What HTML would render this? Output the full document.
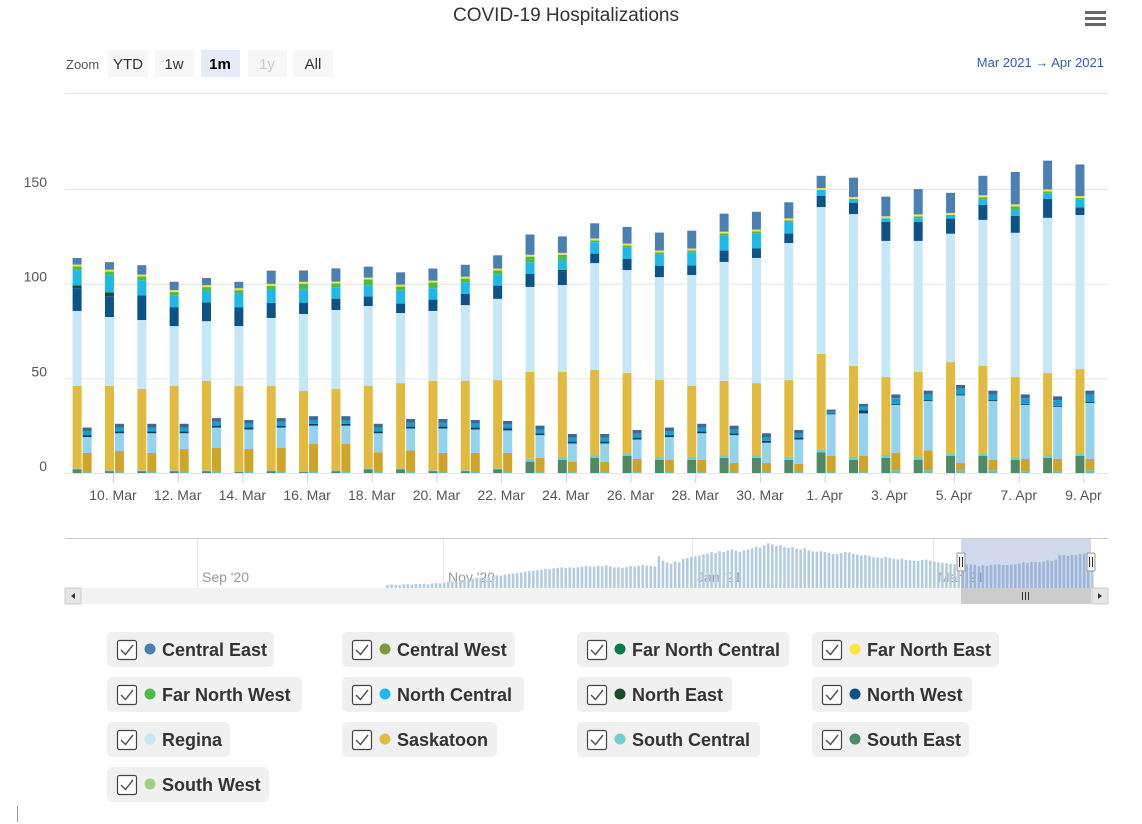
<!DOCTYPE html>
<html><head><meta charset="utf-8"><style>
body{margin:0;background:#fff;font-family:"Liberation Sans",sans-serif}
svg{display:block}
</style></head><body>
<svg id="c" width="1142" height="824" viewBox="0 0 1142 824" xmlns="http://www.w3.org/2000/svg" font-family="Liberation Sans, sans-serif">
<text x="566" y="21" text-anchor="middle" font-size="19" fill="#333">COVID-19 Hospitalizations</text>
<g fill="#666"><rect x="1085" y="11" width="21" height="3"/><rect x="1085" y="17" width="21" height="3"/><rect x="1085" y="23" width="21" height="3"/></g>
<text x="66" y="69" font-size="13" fill="#555">Zoom</text>
<g><rect x="108" y="50" width="40" height="27" fill="#f7f7f7"/><text x="128" y="69" text-anchor="middle" font-size="15" fill="#333">YTD</text></g>
<g><rect x="155" y="50" width="39" height="27" fill="#f7f7f7"/><text x="174" y="69" text-anchor="middle" font-size="15" fill="#333">1w</text></g>
<g><rect x="201" y="50" width="39" height="27" fill="#e6ebf5"/><text x="220" y="69" text-anchor="middle" font-size="15" font-weight="bold" fill="#000">1m</text></g>
<g><rect x="248" y="50" width="39" height="27" fill="#f7f7f7"/><text x="267" y="69" text-anchor="middle" font-size="15" fill="#ccc">1y</text></g>
<g><rect x="293" y="50" width="40" height="27" fill="#f7f7f7"/><text x="313" y="69" text-anchor="middle" font-size="15" fill="#333">All</text></g>
<text x="1104" y="67" text-anchor="end" font-size="13" fill="#335cad">Mar 2021 → Apr 2021</text>
<line x1="65" y1="93.5" x2="1108" y2="93.5" stroke="#e6e6e6"/>
<g id="grid"></g><g id="bars"></g><g id="axes"></g><g id="nav"></g><g id="legend"></g>
<line x1="17.5" y1="806" x2="17.5" y2="822" stroke="#999"/>
</svg>
<script>
const days=['9. Mar','10. Mar','11. Mar','12. Mar','13. Mar','14. Mar','15. Mar','16. Mar','17. Mar','18. Mar','19. Mar','20. Mar','21. Mar','22. Mar','23. Mar','24. Mar','25. Mar','26. Mar','27. Mar','28. Mar','29. Mar','30. Mar','31. Mar','1. Apr','2. Apr','3. Apr','4. Apr','5. Apr','6. Apr','7. Apr','8. Apr','9. Apr'];
const yTicks=[0,50,100,150];
// inpatient stacks
const hSE=[2,1,1,1,1,0.5,1,0.5,1,2,2,1,1,2,6,7,8,9,7,7,8,8,7,11,7,8,7,9,9,7,8,9];
const hSC=[0.5,0.5,0.5,0.5,0.5,0.5,0.5,0.5,0.5,0.5,0.5,0.5,0.5,0.5,1.5,1.5,1.5,1.5,1.5,1.5,1.5,1.5,1.5,1.5,1.5,1.5,1.5,1.5,1.5,1.5,1.5,1.5];
const hSK=[43.5,44.5,42.9,44.5,47.1,45,44.5,42.3,42.9,43.5,45,47.1,47.1,46.6,45.9,44.9,44.9,42.3,40.6,37.5,39.1,38,40.6,50.4,48.1,41.2,44.9,48.1,46.1,42.2,43.3,44.4];
const hRG=[39.6,36.4,36.4,31.6,31.6,31.6,35.9,40.7,41.7,42.2,37,37,40.1,42.9,44.9,45.9,56.5,54.4,54.4,58.6,62.9,66.1,72.4,77.6,80.2,71.9,69.2,67.8,77.1,76.2,82,81.4];
const hNW=[12,11,13,10,10,10,8,6,6,5,5,6,6,7,7,7,5,6,6,5,6,5,5,6,6,10,10,8,8,9,10,4];
const hNE=[1.5,2,0,0,0,0,0,0,0,0,0,0,0,0,0,1,0,0,0,0,0,0,0,0,0,0,0,0,0,0,0,0];
const hNC=[8,9,8,6,6,7,7,7,6,6,7,6,6,6,6,5,6,6,6,7,8,8,6,3,2,2,2,2,3,3,3,4];
const hFNW=[2,2,2,2,2,2,2,3,2,3,2,3,2,2,3,3,1,1,1,1,1,1,1,0,0,0,1,0,1,2,1,1];
const hFNE=[1,1,1,1,1,1,1,1,1,1,1,1,1,1,1,1,1,1,1,1,1,1,1,1,1,1,1,1,1,1,1,1];
const hCE=[3.5,4,5,4.4,3.8,3.4,7,6,7,5.8,6.5,6.4,6.3,7,10.7,8.7,8,8.8,9.5,9.4,9.5,9.4,8.5,6.5,10.2,10.4,13.4,10.6,10.3,17.1,15.2,16.7];
// ICU stacks
const iSC=[0.5,0.5,0.5,0.5,0.5,0.5,0.5,0.5,0.5,0.5,0.5,0.5,0.5,0.5,0.5,0.5,0.5,0.5,0.5,0.5,0.5,0.5,0.5,0.5,0.5,1.5,1.5,1.5,1.5,1,1,1.5];
const iSK=[10.1,11.1,10.1,12.2,12.7,12.2,12.7,14.8,14.8,10.5,11.5,10.1,10.1,10.1,7.5,5.5,5.3,6.9,6.4,6.4,4.8,4.8,4.3,8.5,8.5,9.1,10.5,3.8,5.4,6.4,6.4,5.9];
const iRG=[8.4,9.4,10.4,8.3,10.8,10.3,10.8,9.7,9.7,10,11.5,12.9,12.4,11.9,12,9.6,9.8,10.3,12.1,14.1,14.7,10.7,12.9,22,22.5,25.4,26,35.7,31.1,28.6,27.6,29.6];
const iNW=[1,1,1,1,1,1,1,1,1,1,1,1,1,1,1,1,1,1,1,1,1,1,1,0.5,1.5,0.5,0.5,0.5,0.5,0.5,0.5,0.5];
const iNC=[2,2,2,2,2,2,2,2,2,2,2,2,2,2,2,2,2,2,2,2,2,2,2,1,2,3,3,3,3,3,3,4];
const iCE=[2,2,2,2,2,2,2,2,2,2,2,2,2,2,2,2,2,2,2,2,2,2,2,1,1.5,2,2,2,2,2,2,2];
// navigator: daily totals Oct 17 2020 - Mar 8 2021
const navEarly=[18,20,19,17,21,22,20,24,23,25,22,26,28,27,30,
35,38,40,44,48,52,55,60,58,62,66,70,74,72,78,82,85,88,90,95,98,100,104,108,112,110,115,118,120,116,
120,118,122,125,128,126,124,130,128,132,126,120,122,118,124,128,126,130,135,132,128,125,186,160,150,140,155,150,170,175,180,
185,190,195,200,210,205,215,210,220,225,218,212,220,225,232,240,235,250,262,255,245,250,240,235,238,230,225,232,220,215,212,
215,210,205,200,198,205,210,208,200,195,190,192,188,180,178,175,182,176,170,168,172,165,162,160,158,164,166,160,
155,150,148,145,140,138,142,140];

const NS='http://www.w3.org/2000/svg';
function mk(p,tag,at){const e=document.createElementNS(NS,tag);for(const k in at)e.setAttribute(k,at[k]);p.appendChild(e);return e;}
const y0=473,pxU=1.893,x0=80.6,dx=32.35;
const Y=v=>y0-v*pxU;
const X=i=>x0+i*dx;
const grid=document.getElementById('grid'),axes=document.getElementById('axes'),bars=document.getElementById('bars');
yTicks.forEach(t=>{
 const l=mk(grid,'line',{x1:65,x2:1108,y1:Y(t)+0.5,y2:Y(t)+0.5,stroke:'#e6e6e6'});
 
 
 const tx=mk(axes,'text',{x:47,y:Y(t)-2,'text-anchor':'end','font-size':14,fill:'#555'});tx.textContent=t;
 
 
});
days.forEach((d,i)=>{
 if(i%2===1){
  const tk=mk(axes,'line',{x1:X(i)+0.5,x2:X(i)+0.5,y1:473,y2:483,stroke:'#ccd6eb'});
  
  
  const tx=mk(axes,'text',{x:X(i),y:500,'text-anchor':'middle','font-size':14,fill:'#555'});tx.textContent=d;
  
  
 }
});
const hSeries=[['south-east',hSE,'#4f8a65'],['south-central',hSC,'#6dcfcf'],['saskatoon',hSK,'#e2ba3f'],['regina',hRG,'#c6e7f6'],['north-west',hNW,'#0d5388'],['north-east',hNE,'#1c4a2c'],['north-central',hNC,'#1db9ea'],['far-north-west',hFNW,'#4cbb47'],['far-north-east',hFNE,'#f2e640'],['central-east',hCE,'#4a80b2']];
const iSeries=[['south-central',iSC,'#5cc2c6'],['saskatoon',iSK,'#cfa42a'],['regina',iRG,'#94d3ee'],['north-west',iNW,'#0a3d66'],['north-central',iNC,'#1a9cd0'],['central-east',iCE,'#3b6a98']];
function stack(series,off,kind){
 days.forEach((d,i)=>{let acc=0;
  series.forEach(([n,arr,col])=>{const v=arr[i];if(v<=0)return;
   const r=mk(bars,'rect',{x:X(i)+off,y:Y(acc+v),width:9,height:v*pxU,fill:col});
   
   
   acc+=v;});
 });
}
stack(hSeries,-8,'inpatient');
stack(iSeries,2,'icu');

// navigator
const nav=document.getElementById('nav');
mk(nav,'line',{x1:65,x2:1108,y1:538.5,y2:538.5,stroke:'#cccccc'});
[['Sep \'20',197],['Nov \'20',443],['Jan \'21',692],['Mar \'21',933]].forEach(([t,x])=>{
 const l=mk(nav,'line',{x1:x+0.5,x2:x+0.5,y1:539,y2:588,stroke:'#e6e6e6'});
 
 
 const tx=mk(nav,'text',{x:x+5,y:582,'font-size':14,fill:'#999'});tx.textContent=t;
 
 
});
const navPx=0.171,navDay=4.05,navStart=933-135*navDay;
const navAll=navEarly.slice();
days.forEach((d,i)=>{let s=0;[hSE,hSC,hSK,hRG,hNW,hNE,hNC,hFNW,hFNE,hCE,iSC,iSK,iRG,iNW,iNC,iCE].forEach(a=>s+=a[i]);navAll.push(s);});
navAll.forEach((v,i)=>{
 const r=mk(nav,'rect',{x:navStart+i*navDay,y:588-v*navPx,width:2.6,height:v*navPx,fill:'#b3cce0'});
 
 
});
const mask=mk(nav,'rect',{x:961,y:539,width:130,height:49,fill:'rgba(102,133,194,0.3)'});


[961,1091].forEach(x=>{const h=mk(nav,'rect',{x:x-4,y:553,width:8,height:18,fill:'#f2f2f2',stroke:'#999',rx:1});
 
 
 mk(nav,'line',{x1:x-1.5,x2:x-1.5,y1:557,y2:567,stroke:'#333'});mk(nav,'line',{x1:x+1.5,x2:x+1.5,y1:557,y2:567,stroke:'#333'});});
const sb=mk(nav,'rect',{x:65,y:588,width:1043,height:16,fill:'#f2f2f2'});


const th=mk(nav,'rect',{x:961,y:588,width:130,height:16,fill:'#cccccc'});


[1022.5,1025.5,1028.5].forEach(x=>mk(nav,'line',{x1:x,x2:x,y1:592,y2:600,stroke:'#333'}));
const bl=mk(nav,'rect',{x:65,y:588,width:16,height:16,fill:'#e6e6e6',stroke:'#ccc'});


mk(nav,'path',{d:'M75 593 L71 596 L75 599Z',fill:'#333'});
const br=mk(nav,'rect',{x:1092,y:588,width:16,height:16,fill:'#e6e6e6',stroke:'#ccc'});


mk(nav,'path',{d:'M1098 593 L1102 596 L1098 599Z',fill:'#333'});

// legend
const legendNames=['Central East','Central West','Far North Central','Far North East','Far North West','North Central','North East','North West','Regina','Saskatoon','South Central','South East','South West'];
const legendColors=['#4a80b2','#7f9a3a','#0b7a4a','#f5e642','#4cbb47','#1db9ea','#1c4a2c','#0d5388','#c6e7f6','#e2ba3f','#6dcfcf','#4f8a65','#9fd07f'];
const legendWidths=[167,173,212,187,195,182,155,160,123,155,183,157,162];
const leg=document.getElementById('legend');
legendNames.forEach((n,i)=>{
 const x=107+(i%4)*235,y=632+Math.floor(i/4)*45;
 const g=mk(leg,'g',{});
 
 
 mk(g,'rect',{x:x,y:y,width:legendWidths[i],height:35,rx:5,fill:'#f0f0f0'});
 mk(g,'rect',{x:x+10.5,y:y+8.5,width:19,height:19,rx:2,fill:'#fff',stroke:'#444','stroke-width':1.2});
 mk(g,'path',{d:`M${x+14} ${y+18} L${x+18.5} ${y+22.5} L${x+26} ${y+13}`,fill:'none',stroke:'#555','stroke-width':1.5});
 mk(g,'circle',{cx:x+43,cy:y+17,r:5.5,fill:legendColors[i]});
 const t=mk(g,'text',{x:x+55,y:y+24,'font-size':18,'font-weight':'bold',fill:'#333'});t.textContent=n;
});
</script>
</body></html>
